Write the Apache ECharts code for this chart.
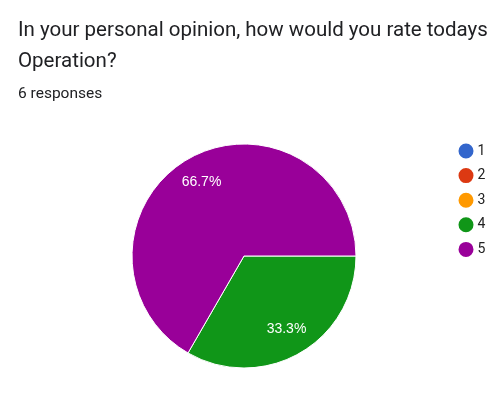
<!DOCTYPE html>
<html>
<head>
<meta charset="utf-8">
<script src="https://cdn.jsdelivr.net/npm/echarts@6/dist/echarts.min.js"></script>
<style>
html,body{margin:0;padding:0;background:#fff;}
#chart{width:502px;height:410px;}
</style>
</head>
<body>
<div id="chart"></div>
<script>
const categories = ['1', '2', '3', '4', '5'];
const counts = [0, 0, 0, 2, 4];
const colors = ['#3366cc', '#dc3912', '#ff9900', '#109618', '#990099'];
const titleText = 'In your personal opinion, how would you rate todays\nOperation?';
const subtitleText = '6 responses';

const chart = echarts.init(document.getElementById('chart'));
const total = counts.reduce((a, b) => a + b, 0);
const pieData = categories.map((c, i) => ({ name: c, value: counts[i] }));
chart.setOption({
  animation: false,
  color: colors,
  title: {
    text: titleText,
    subtext: subtitleText,
    left: 18,
    top: 15,
    padding: 0,
    itemGap: 9,
    textStyle: { fontFamily: 'Roboto', fontSize: 20.5, fontWeight: 'normal', color: '#202124', lineHeight: 31 },
    subtextStyle: { fontFamily: 'Roboto', fontSize: 15.5, color: '#202124' }
  },
  legend: {
    orient: 'vertical',
    left: 456.5,
    top: 141.5,
    padding: 0,
    icon: 'circle',
    itemWidth: 17,
    itemHeight: 17,
    itemGap: 5.6,
    textStyle: { fontFamily: 'Roboto', fontSize: 14, color: '#222222', padding: [0, 0, 0, -2] },
    data: categories.map((c, i) => ({ name: c, itemStyle: { color: colors[i] } }))
  },
  series: [{
    type: 'pie',
    center: [244, 256],
    radius: 112,
    startAngle: 0,
    clockwise: true,
    label: { show: false },
    labelLine: { show: false },
    itemStyle: { borderColor: '#ffffff', borderWidth: 1 },
    emphasis: { disabled: true },
    silent: true,
    data: pieData
  }, {
    type: 'pie',
    center: [244, 256],
    radius: [52, 112],
    startAngle: 0,
    clockwise: true,
    silent: true,
    label: {
      position: 'inside',
      formatter: p => p.value > 0 ? (p.value / total * 100).toFixed(1) + '%' : '',
      color: '#ffffff',
      fontFamily: 'Arial',
      fontSize: 14
    },
    labelLine: { show: false },
    itemStyle: { color: 'transparent', borderWidth: 0 },
    emphasis: { disabled: true },
    data: pieData
  }]
});
</script>
</body>
</html>
